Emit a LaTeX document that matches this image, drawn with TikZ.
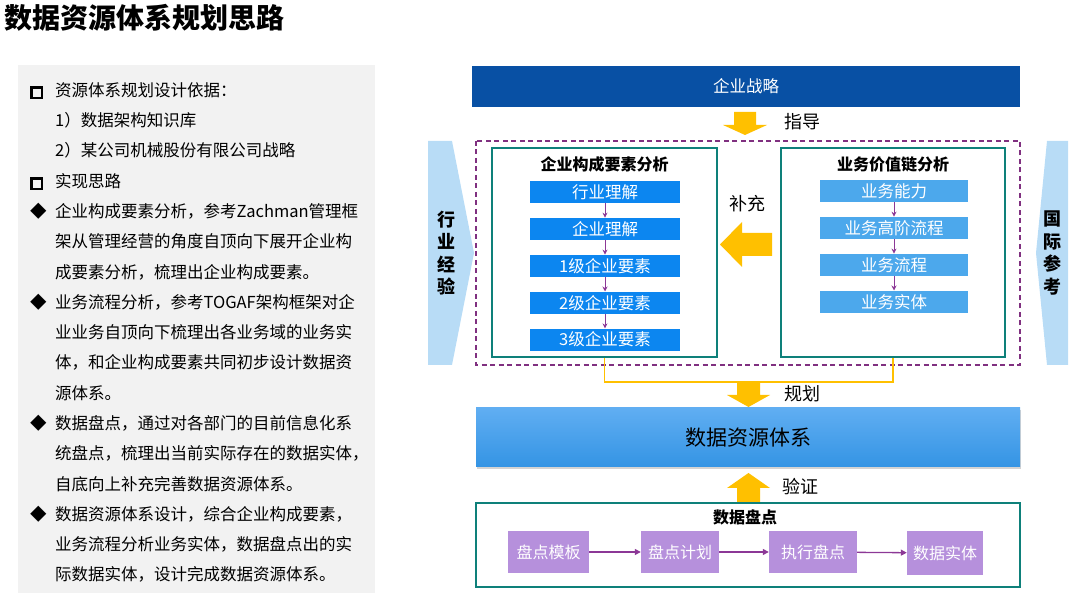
\documentclass[tikz,border=0pt]{standalone}
\usepackage{fontspec}
\setmainfont{Noto Sans CJK SC}
\usetikzlibrary{arrows.meta,positioning,shadows}
\definecolor{navy}{RGB}{8,80,164}
\definecolor{tealg}{RGB}{14,128,122}
\definecolor{blueL}{RGB}{12,134,240}
\definecolor{blueR}{RGB}{76,168,236}
\definecolor{pale}{RGB}{184,220,246}
\definecolor{lilac}{RGB}{182,144,220}
\definecolor{pur}{RGB}{140,56,150}
\definecolor{dashp}{RGB}{128,48,128}
\definecolor{yel}{RGB}{255,192,0}
\definecolor{panel}{RGB}{242,242,242}
\newcommand{\sqmark}{\raisebox{-0.4pt}{\setlength\fboxrule{2.6pt}\setlength\fboxsep{0pt}\fbox{\rule{0pt}{8pt}\rule{8pt}{0pt}}}}
\newcommand{\bl}[1]{\makebox[25pt][l]{#1}}

\begin{document}
\begin{tikzpicture}[x=1pt, y=-1pt,
  grp/.style={draw=tealg, line width=2.4pt, minimum width=225pt,
    minimum height=209pt, inner sep=0pt},
  itemL/.style={fill=blueL, text=white, minimum width=150pt,
    minimum height=22pt, inner sep=0pt, font=\fontsize{16.5}{16}\selectfont},
  itemR/.style={itemL, fill=blueR, minimum width=148pt},
  pbox/.style={fill=lilac, text=white, minimum height=42pt, inner sep=0pt,
    font=\fontsize{16}{16}\selectfont},
  hd/.style={inner sep=0pt, font=\fontsize{16}{16}\selectfont\bfseries},
  lbl/.style={inner sep=0pt, font=\fontsize{18}{18}\selectfont},
  side/.style={inner sep=0pt, align=center,
    font=\fontsize{18}{22.5}\selectfont\bfseries},
  flow/.style={draw=pur, line width=1pt, -{Stealth[length=5pt,width=5pt]}},
  pflow/.style={draw=pur, line width=1.3pt, -{Triangle[length=6pt,width=6pt]}}]
\useasboundingbox (0,0) rectangle (1080,593);

% left column
\node[anchor=west, inner sep=0pt, font=\fontsize{28}{28}\selectfont\bfseries]
  (title) at (4,18) {数据资源体系规划思路};
\fill[panel] (18,65) rectangle (375,593);
\node[anchor=base west, align=left, inner sep=0pt,
  font=\fontsize{16.5}{30.3}\selectfont] (notes) at (30,581) {%
  \bl{\sqmark}资源体系规划设计依据：\\
  \bl{}1）数据架构知识库\\
  \bl{}2）某公司机械股份有限公司战略\\
  \bl{\sqmark}实现思路\\
  \bl{◆}企业构成要素分析，参考Zachman管理框\\
  \bl{}架从管理经营的角度自顶向下展开企业构\\
  \bl{}成要素分析，梳理出企业构成要素。\\
  \bl{◆}业务流程分析，参考TOGAF架构框架对企\\
  \bl{}业业务自顶向下梳理出各业务域的业务实\\
  \bl{}体，和企业构成要素共同初步设计数据资\\
  \bl{}源体系。\\
  \bl{◆}数据盘点，通过对各部门的目前信息化系\\
  \bl{}统盘点，梳理出当前实际存在的数据实体，\\
  \bl{}自底向上补充完善数据资源体系。\\
  \bl{◆}数据资源体系设计，综合企业构成要素，\\
  \bl{}业务流程分析业务实体，数据盘点出的实\\
  \bl{}际数据实体，设计完成数据资源体系。};

% strategy and guide arrow
\node[fill=navy, text=white, minimum width=548pt, minimum height=41pt,
  inner sep=0pt, font=\fontsize{16.5}{16}\selectfont] (strat) at (746,86.5) {企业战略};
\fill[yel] (734,112) -- (756,112) -- (756,125) -- (767,125) -- (745,135)
  -- (723,125) -- (734,125) -- cycle;
\node[lbl] (guide) at (802,122) {指导};

% side chevrons
\fill[pale] (428,141) -- (452,141) -- (474,253) -- (452,365) -- (428,365) -- cycle;
\node[side] (indus) at (446,253) {行\\业\\经\\验};
\fill[pale] (1068,141) -- (1047,141) -- (1036,253) -- (1047,365) -- (1068,365) -- cycle;
\node[side] (intl) at (1052,253) {国\\际\\参\\考};

% analysis groups
\draw[dashp, line width=1.1pt, dash pattern=on 5pt off 3.5pt]
  (476,141) rectangle (1020,365);
\node[grp] (lgrp) at (604.5,252.5) {};
\node[grp, minimum width=224pt] (rgrp) at (893,252.5) {};
\node[hd] (lhd) at (604.5,164) {企业构成要素分析};
\node[hd] (rhd) at (893,164) {业务价值链分析};

\node[itemL] (l1) at (605,192) {行业理解};
\node[itemL, below=14.5pt of l1] (l2) {企业理解};
\node[itemL, below=14.5pt of l2] (l3) {1级企业要素};
\node[itemL, below=14.5pt of l3] (l4) {2级企业要素};
\node[itemL, below=14.5pt of l4] (l5) {3级企业要素};
\draw[flow] (l1) -- (l2);
\draw[flow] (l2) -- (l3);
\draw[flow] (l3) -- (l4);
\draw[flow] (l4) -- (l5);

\node[itemR] (r1) at (894,191) {业务能力};
\node[itemR, below=14.5pt of r1] (r2) {业务高阶流程};
\node[itemR, below=14.5pt of r2] (r3) {业务流程};
\node[itemR, below=14.5pt of r3] (r4) {业务实体};
\draw[flow] (r1) -- (r2);
\draw[flow] (r2) -- (r3);
\draw[flow] (r3) -- (r4);

\fill[yel] (772,233) -- (742,233) -- (742,222) -- (720,244.5) -- (742,267)
  -- (742,256) -- (772,256) -- cycle;
\node[lbl] (supp) at (747,204) {补充};

% planning
\draw[yel, line width=1.5pt] (lgrp.south) -- (604.5,382) -| (rgrp.south);
\fill[yel] (737,382) -- (760,382) -- (760,395) -- (770,395) -- (748.5,407)
  -- (727,395) -- (737,395) -- cycle;
\node[lbl] (plan) at (802,394) {规划};

\node[top color={rgb,255:red,96;green,174;blue,242},
  bottom color={rgb,255:red,52;green,148;blue,228},
  minimum width=544pt, minimum height=59pt, inner sep=0pt,
  font=\fontsize{21}{21}\selectfont,
  drop shadow={shadow xshift=1pt, shadow yshift=-2pt, opacity=.35}]
  (drs) at (748,437.5) {数据资源体系};

% inventory
\fill[yel] (748.5,473) -- (770,488) -- (760,488) -- (760,503) -- (737,503)
  -- (737,488) -- (727,488) -- cycle;
\node[lbl] (verify) at (800,487) {验证};
\node[draw=tealg, line width=2.4pt, minimum width=544pt, minimum height=84pt,
  inner sep=0pt] (inv) at (748,545) {};
\node[hd] (invhd) at (745,517) {数据盘点};
\node[pbox, minimum width=81pt] (p1) at (548.5,552) {盘点模板};
\node[pbox, minimum width=78pt] (p2) at (680,552) {盘点计划};
\node[pbox, minimum width=88pt] (p3) at (813,552) {执行盘点};
\node[pbox, minimum width=76pt, minimum height=44pt] (p4) at (945,553) {数据实体};
\draw[pflow] (p1) -- (p2);
\draw[pflow] (p2) -- (p3);
\draw[pflow] (p3) -- (p4);
\end{tikzpicture}
\end{document}
